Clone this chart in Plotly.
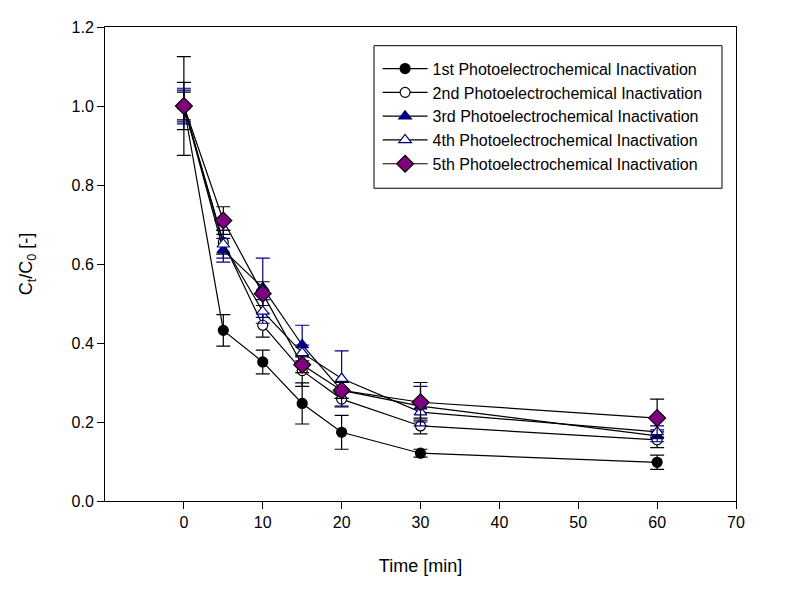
import plotly.graph_objects as go

time_min = [0, 5, 10, 15, 20, 30, 60]

names = [
    "1st Photoelectrochemical Inactivation",
    "2nd Photoelectrochemical Inactivation",
    "3rd Photoelectrochemical Inactivation",
    "4th Photoelectrochemical Inactivation",
    "5th Photoelectrochemical Inactivation",
]

run1 = [1.0, 0.432, 0.352, 0.247, 0.174, 0.121, 0.098]
run2 = [1.0, 0.655, 0.445, 0.330, 0.258, 0.190, 0.155]
run3 = [1.0, 0.635, 0.540, 0.395, 0.280, 0.240, 0.165]
run4 = [1.0, 0.650, 0.480, 0.375, 0.310, 0.225, 0.175]
run5 = [1.0, 0.710, 0.525, 0.345, 0.280, 0.250, 0.210]

err1 = [0.125, 0.040, 0.030, 0.052, 0.043, 0.010, 0.018]
err2 = [0.060, 0.030, 0.030, 0.040, 0.020, 0.020, 0.020]
err3 = [0.045, 0.030, 0.075, 0.050, 0.020, 0.050, 0.015]
err4 = [0.040, 0.035, 0.030, 0.020, 0.070, 0.020, 0.015]
err5 = [0.035, 0.035, 0.030, 0.020, 0.020, 0.050, 0.048]

series = [run1, run2, run3, run4, run5]
errors = [err1, err2, err3, err4, err5]

styles = [
    dict(symbol="circle", color="black", line="black", size=10, ecol="black"),
    dict(symbol="circle", color="white", line="black", size=10, ecol="black"),
    dict(symbol="triangle-up", color="#000080", line="#000080", size=11, ecol="#000080"),
    dict(symbol="triangle-up", color="white", line="#000080", size=11, ecol="#000080"),
    dict(symbol="diamond", color="#800080", line="black", size=13, ecol="black"),
]

fig = go.Figure()
for name, y, e, st in zip(names, series, errors, styles):
    fig.add_trace(go.Scatter(
        x=time_min, y=y, name=name, mode="lines+markers",
        line=dict(color="black", width=1.2),
        marker=dict(symbol=st["symbol"], color=st["color"], size=st["size"],
                    line=dict(color=st["line"], width=1.2)),
        error_y=dict(type="data", array=e, visible=True, color=st["ecol"],
                     thickness=1.2, width=7),
    ))

# legend frame drawn as a shape (reference has generous padding)
fig.add_shape(type="rect", xref="paper", yref="paper",
              x0=0.4263, x1=0.9778, y0=0.6598, y1=0.9606,
              line=dict(color="black", width=1), fillcolor="rgba(0,0,0,0)",
              layer="above")

fig.update_layout(
    width=805, height=602,
    margin=dict(l=97, r=77, t=11, b=109),
    plot_bgcolor="white", paper_bgcolor="white",
    font=dict(family="Liberation Sans, Arial, sans-serif", size=15, color="black"),
    showlegend=True,
    legend=dict(x=0.432, y=0.948, xanchor="left", yanchor="top",
                borderwidth=0, bgcolor="rgba(255,255,255,0)",
                font=dict(size=16), tracegroupgap=0, itemwidth=45),
    xaxis=dict(range=[-10, 70], tickvals=[0, 10, 20, 30, 40, 50, 60, 70],
               showgrid=False, zeroline=False, showline=True, linecolor="black",
               linewidth=1, mirror=True, ticks="outside", ticklen=7,
               tickcolor="black", tickfont=dict(size=16),
               title=dict(text="Time [min]", font=dict(size=18), standoff=29)),
    yaxis=dict(range=[0, 1.2], tickvals=[0, 0.2, 0.4, 0.6, 0.8, 1.0, 1.2],
               tickformat=".1f", tickfont=dict(size=16),
               showgrid=False, zeroline=False, showline=True, linecolor="black",
               linewidth=1, mirror=True, ticks="outside", ticklen=7,
               tickcolor="black",
               title=dict(text="C<sub>t</sub>/C<sub>0</sub> [-]", font=dict(size=18), standoff=34)),
)

fig.write_html("out.html")
